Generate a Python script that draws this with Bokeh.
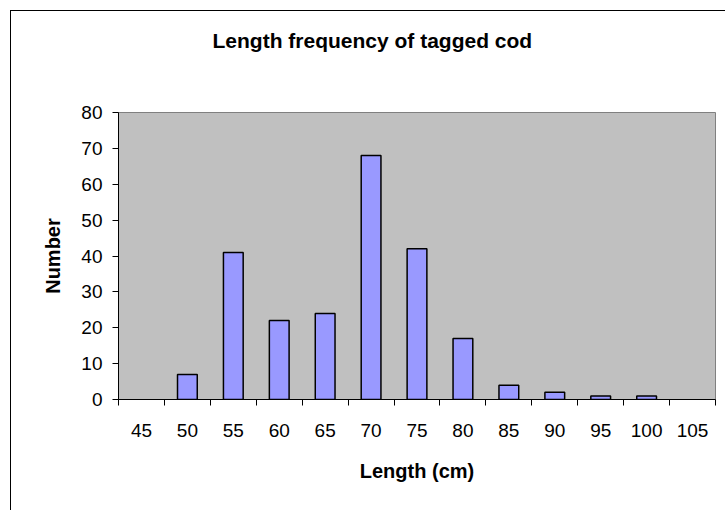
from bokeh.plotting import figure
from bokeh.models import Range1d, FixedTicker, ColumnDataSource, Title
from bokeh.embed import file_html
from bokeh.resources import INLINE

# Data
length_labels = ["45", "50", "55", "60", "65", "70", "75", "80", "85", "90", "95", "100", "105"]
counts = [0, 7, 41, 22, 24, 68, 42, 17, 4, 2, 1, 1, 0]
y_ticks = [0, 10, 20, 30, 40, 50, 60, 70, 80]
title_text = "Length frequency of tagged cod"
x_title = "Length (cm)"
y_title = "Number"

n = len(length_labels)
xpos = [i + 0.5 for i in range(n)]
# Excel does not draw zero-height bars
bx = [x for x, c in zip(xpos, counts) if c > 0]
bt = [c for c in counts if c > 0]
src = ColumnDataSource(dict(x=bx, top=bt))

FONT = "Liberation Sans"

p = figure(
    output_backend="svg", toolbar_location=None,
    frame_width=597, frame_height=287,
    min_border_left=107, min_border_top=101, min_border_right=10, min_border_bottom=111,
    x_range=Range1d(0, n), y_range=Range1d(0, 80),
    tools="",
)
p.margin = (10, 0, 0, 10)
p.styles = {"border-left": "1px solid black", "border-top": "1px solid black"}

p.background_fill_color = "#C0C0C0"
p.border_fill_color = "white"
p.outline_line_color = "#808080"
p.outline_line_width = 1
p.xgrid.grid_line_color = None
p.ygrid.grid_line_color = None

p.vbar(x="x", top="top", bottom=0, width=0.43, source=src,
       fill_color="#9999FF", line_color="black", line_width=1.5)

# Spacer between the frame and the title
p.add_layout(Title(text=" ", text_font_size="10px", standoff=43), "above")

# Title
p.title.text = title_text
p.title.text_font = FONT
p.title.text_font_size = "21px"
p.title.text_font_style = "bold"
p.title.align = "left"
p.title.offset = 94
p.title.standoff = 10
p.title.text_color = "black"

# X axis
xa = p.xaxis[0]
xa.ticker = FixedTicker(ticks=xpos, minor_ticks=list(range(n + 1)))
xa.major_label_overrides = {x: lab for x, lab in zip(xpos, length_labels)}
xa.major_tick_line_color = None
xa.major_tick_out = 0
xa.major_tick_in = 0
xa.minor_tick_line_color = "black"
xa.minor_tick_out = 6
xa.minor_tick_in = 0
xa.axis_line_color = "black"
xa.major_label_text_font = FONT
xa.major_label_text_font_size = "19px"
xa.major_label_text_color = "black"
xa.major_label_standoff = 18
xa.axis_label = x_title
xa.axis_label_text_font = FONT
xa.axis_label_text_font_size = "20px"
xa.axis_label_text_font_style = "bold"
xa.axis_label_text_color = "black"
xa.axis_label_standoff = 20

# Y axis
ya = p.yaxis[0]
ya.ticker = FixedTicker(ticks=y_ticks)
ya.minor_tick_line_color = None
ya.major_tick_line_color = "black"
ya.major_tick_out = 6
ya.major_tick_in = 0
ya.axis_line_color = "black"
ya.major_label_text_font = FONT
ya.major_label_text_font_size = "19px"
ya.major_label_text_color = "black"
ya.major_label_standoff = 10
ya.axis_label = y_title
ya.axis_label_text_font = FONT
ya.axis_label_text_font_size = "20px"
ya.axis_label_text_font_style = "bold"
ya.axis_label_text_color = "black"
ya.axis_label_standoff = 14

open("out.html", "w").write(file_html(p, INLINE))
